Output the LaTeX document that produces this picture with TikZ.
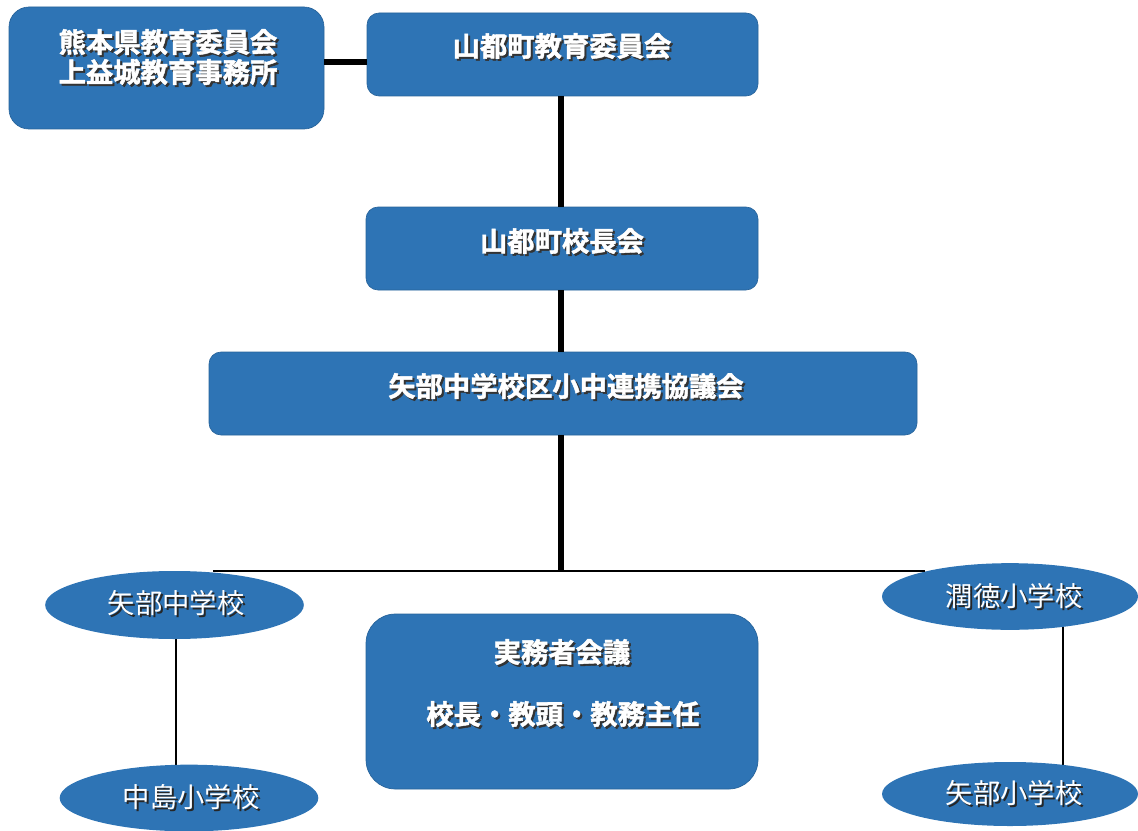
\documentclass[tikz,border=0pt]{standalone}
\usepackage{fontspec}
\newfontfamily\jp{Noto Sans CJK JP}
\newfontfamily\jpheavy{Noto Sans CJK JP}[UprightFont=* Bold, FakeBold=1.6]
\usetikzlibrary{shapes.geometric,fit,backgrounds}
\definecolor{boxblue}{RGB}{46,116,181}
\newcommand\shtext[5]{%
  \node[#2shd] (#1s) at (#3+2,#4+2) {#5};
  \node[#2] (#1) at (#3,#4) {#5};}
\begin{document}
\begin{tikzpicture}[x=0.75pt,y=-0.75pt,
  box/.style={fill=boxblue, draw=boxblue!85!black, line width=0.5pt, rounded corners=#1, inner sep=0pt},
  box/.default=9pt,
  oval/.style={ellipse, fill=boxblue, inner sep=0pt},
  thickline/.style={line width=4.5pt},
  thinline/.style={line width=1.4pt},
  btxt/.style={font=\jpheavy\fontsize{20.5}{22.5}\selectfont, text=white, align=center, inner sep=0pt},
  btxtshd/.style={btxt, text=black!80},
  otxt/.style={font=\jp\fontsize{20.5}{22.5}\selectfont, text=white, align=center, inner sep=0pt},
  otxtshd/.style={otxt, text=black!85}]
\useasboundingbox (0,0) rectangle (1138,831);

% boxes
\node[box=15pt, fit={(9,7) (324,129)}] (A) {};
\node[box, fit={(367,13) (758,96)}] (B) {};
\node[box, fit={(366,207) (758,290)}] (C) {};
\node[box, fit={(209,352) (917,435)}] (D) {};
\node[box=22pt, fit={(366,614) (758,789)}] (E) {};

% ellipses
\node[oval, minimum width=194pt, minimum height=51pt] (Y1) at (174.5,605) {};
\node[oval, minimum width=194pt, minimum height=50pt] (N) at (189,798) {};
\node[oval, minimum width=192pt, minimum height=50pt] (J) at (1010,596.5) {};
\node[oval, minimum width=192pt, minimum height=48pt] (K) at (1010,794) {};

% connectors
\coordinate (ab) at (345,62);
\coordinate (bus) at (561,571);
\coordinate (busL) at (213,571);
\coordinate (busR) at (925,571);
\draw[thickline] (A.east |- ab) -- (B.west |- ab);
\draw[thickline] (bus |- B.south) -- (bus |- C.north);
\draw[thickline] (bus |- C.south) -- (bus |- D.north);
\draw[thickline] (bus |- D.south) -- (bus);
\draw[thinline] (busL) -- (busR);
\begin{scope}[on background layer]
\draw[thinline] ([xshift=1.1pt]Y1.center) -- ([xshift=1.1pt]Y1.center |- N.center);
\draw[thinline] ([xshift=39.75pt]J.center) -- ([xshift=39.75pt]J.center |- K.center);
\end{scope}

% texts
\shtext{At}{btxt}{168}{57}{熊本県教育委員会\\上益城教育事務所}
\shtext{Bt}{btxt}{562}{46}{山都町教育委員会}
\shtext{Ct}{btxt}{562}{241}{山都町校長会}
\shtext{Dt}{btxt}{566}{386}{矢部中学校区小中連携協議会}
\shtext{Et1}{btxt}{562}{652}{実務者会議}
\shtext{Et2}{btxt}{563}{714}{校長・教頭・教務主任}
\shtext{Y1t}{otxt}{176}{603}{矢部中学校}
\shtext{Nt}{otxt}{191}{797}{中島小学校}
\shtext{Jt}{otxt}{1014}{596}{潤徳小学校}
\shtext{Kt}{otxt}{1014}{793}{矢部小学校}
\end{tikzpicture}
\end{document}
